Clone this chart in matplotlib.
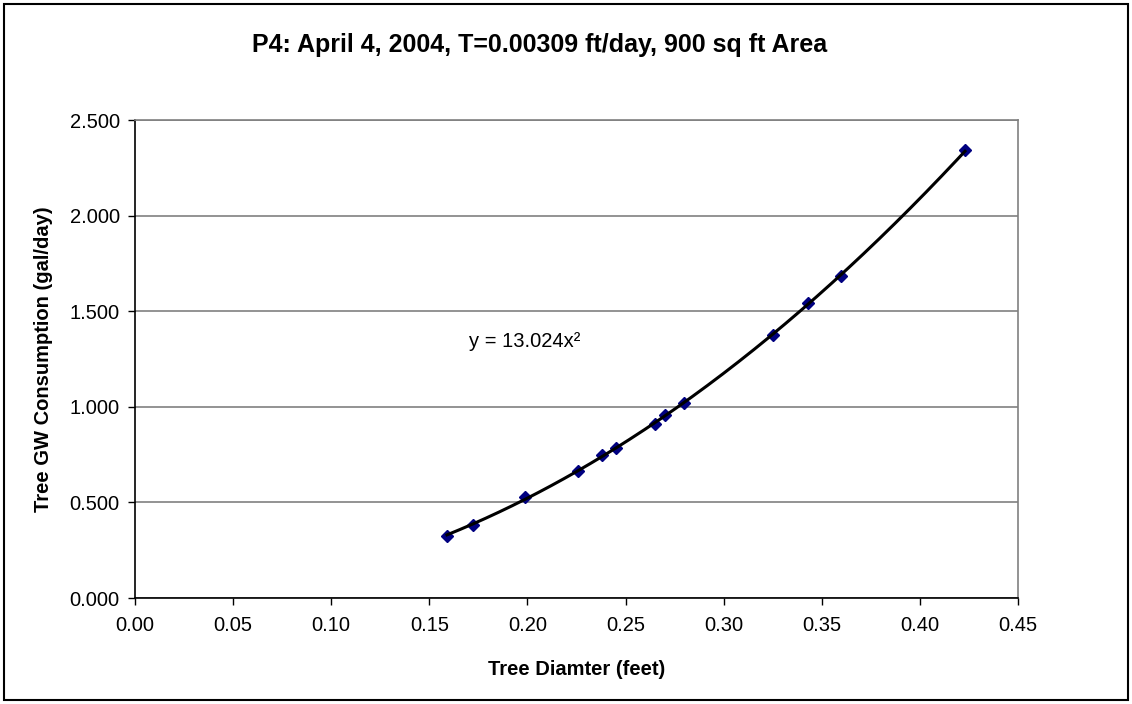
import numpy as np
import matplotlib.pyplot as plt
from matplotlib.patches import Rectangle

plt.rcParams['font.family'] = ['Liberation Sans', 'DejaVu Sans']

# Data
tree_diameter = [0.159, 0.172, 0.199, 0.226, 0.238, 0.245, 0.265, 0.270, 0.280,
                 0.325, 0.343, 0.360, 0.423]
gw_consumption = [0.326, 0.384, 0.526, 0.663, 0.747, 0.784, 0.911, 0.958, 1.021,
                  1.374, 1.542, 1.684, 2.342]

title = 'P4: April 4, 2004, T=0.00309 ft/day, 900 sq ft Area'
x_label = 'Tree Diamter (feet)'
y_label = 'Tree GW Consumption (gal/day)'
equation = 'y = 13.024x²'

x = np.array(tree_diameter)
y = np.array(gw_consumption)

# power trendline through origin, y = c*x^2
c = np.sum(x**2 * y) / np.sum(x**4)
xs = np.linspace(x.min(), x.max(), 200)

W, H = 1132, 704
fig = plt.figure(figsize=(W / 100, H / 100), dpi=100)
ax = fig.add_axes([135 / W, 1 - 598 / H, (1018 - 135) / W, (598 - 120) / H])

ax.plot(xs, c * xs**2, color='black', linewidth=2.2, zorder=3)
ax.plot(x, y, linestyle='none', marker='D', markersize=6.5,
        color='#000080', zorder=2)

xt = np.arange(0, 0.451, 0.05)
yt = np.arange(0, 2.51, 0.5)
ax.set_xlim(0, 0.45)
ax.set_ylim(0, 2.5)
ax.set_xticks(xt)
ax.set_yticks(yt)
ax.set_xticklabels([f'{v:.2f}' for v in xt])
ax.set_yticklabels([f'{v:.3f}' for v in yt])
ax.tick_params(axis='both', direction='out', length=5, width=1,
               labelsize=14.5, color='black')
ax.tick_params(axis='x', pad=8)
ax.tick_params(axis='y', pad=6)

ax.yaxis.grid(True, color='#808080', linewidth=1.2)
ax.set_axisbelow(True)
for side in ['top', 'right']:
    ax.spines[side].set_color('#808080')
    ax.spines[side].set_linewidth(1.2)
for side in ['left', 'bottom']:
    ax.spines[side].set_color('black')
    ax.spines[side].set_linewidth(1.2)

ax.set_xlabel(x_label, fontsize=14.5, fontweight='bold', labelpad=18)
ax.set_ylabel(y_label, fontsize=14.5, fontweight='bold', labelpad=12)

ax.text(0.17, 1.34, equation, fontsize=14.5, va='center', ha='left')

fig.text(540 / W, 1 - 45 / H, title, fontsize=18, fontweight='bold',
         ha='center', va='center')

# chart frame
fig.add_artist(Rectangle((4 / W, 4 / H), 1 - 8 / W, 1 - 8 / H, fill=False,
                         edgecolor='black', linewidth=1.5,
                         transform=fig.transFigure))

fig.savefig('out.png', dpi=100)
